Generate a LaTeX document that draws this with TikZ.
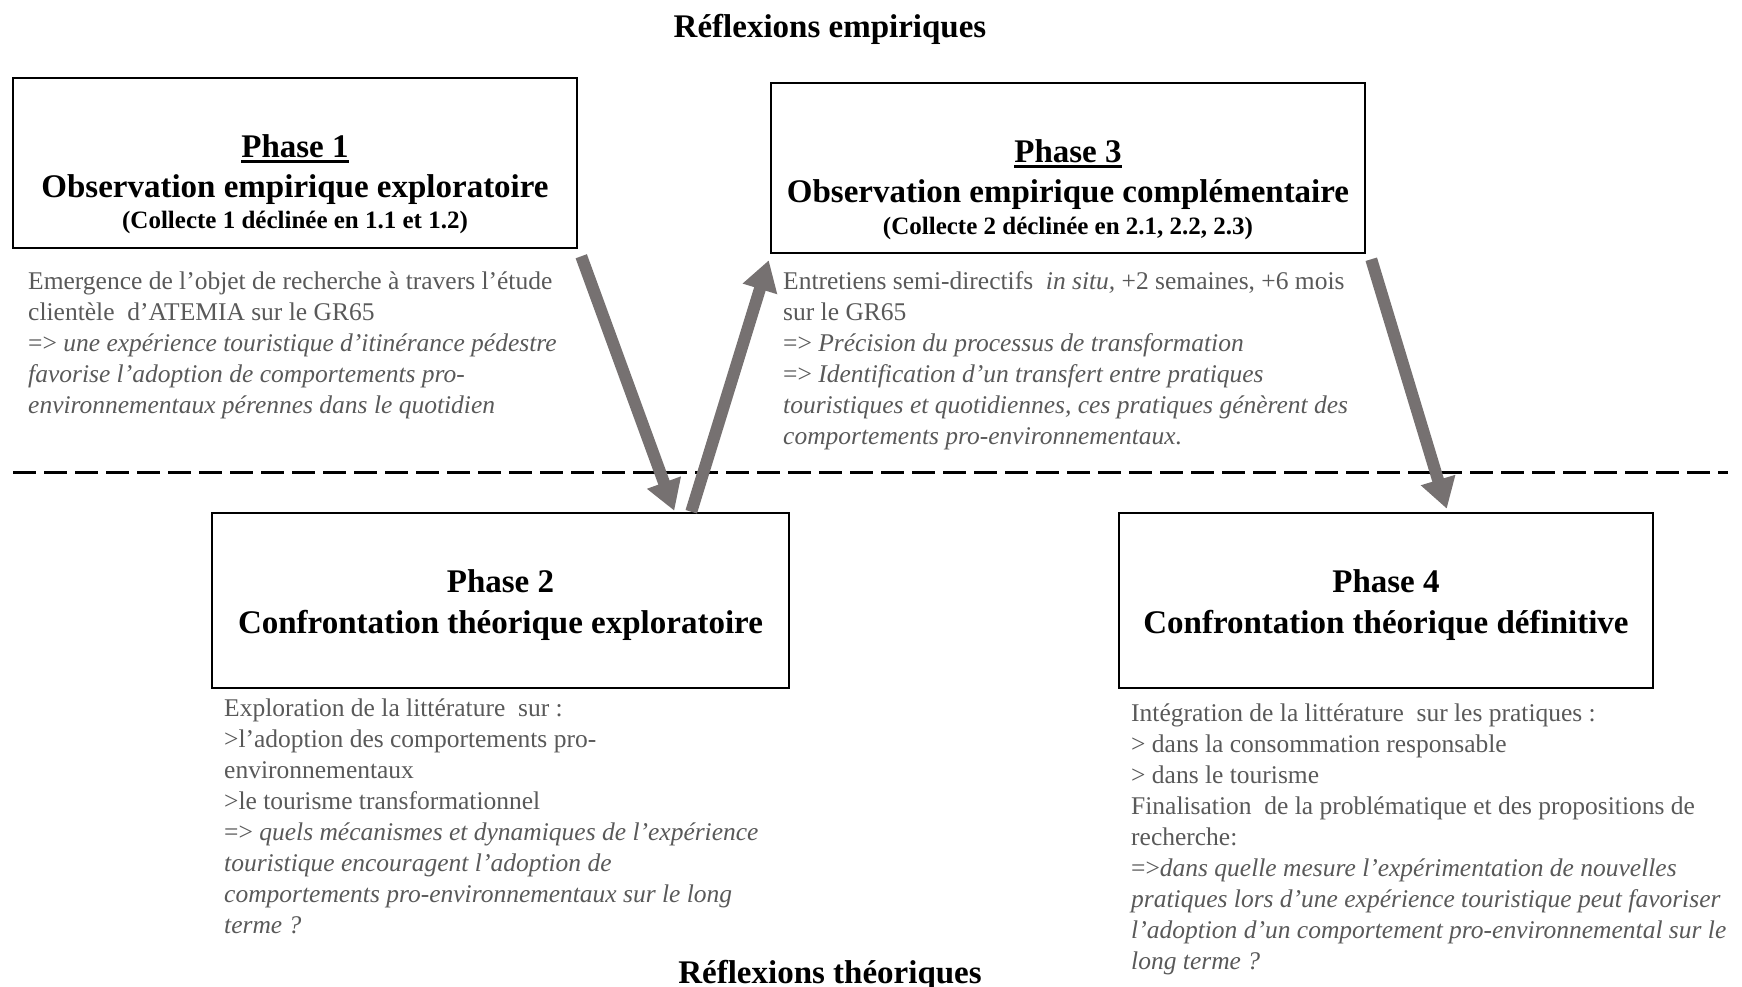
\documentclass[tikz,border=0pt]{standalone}
\usepackage{fontspec}
\setmainfont{Liberation Serif}
\usetikzlibrary{arrows.meta,calc}
\definecolor{txtgray}{HTML}{595959}
\definecolor{arrgray}{HTML}{767171}
\newcommand{\myul}[1]{\setbox0\hbox{#1}\rlap{\rule[-5pt]{\wd0}{2.5pt}}\box0}
\tikzset{
 phasebox/.style={draw=black, line width=2.5pt, inner sep=0pt},
 headtxt/.style={font=\fontsize{33}{40}\selectfont\bfseries, anchor=base, inner sep=0pt},
 subtxt/.style={font=\fontsize{25}{30}\selectfont\bfseries, anchor=base, inner sep=0pt},
 desctxt/.style={font=\fontsize{25.5}{31}\selectfont, text=txtgray, align=left, anchor=base west, inner sep=0pt},
 bigarrow/.style={draw=arrgray, line width=12pt, -{Triangle[length=30pt,width=34pt]}},
 dashline/.style={draw=black, line width=3pt, dash pattern=on 23pt off 8pt},
}
\begin{document}
\begin{tikzpicture}[x=1pt,y=-1pt]
\useasboundingbox (0,0) rectangle (1742,987);
% titles
\node[headtxt] (temp) at (830,38) {Réflexions empiriques};
\node[headtxt] (ttheo) at (830,983) {Réflexions théoriques};
% boxes
\node[phasebox, minimum width=564pt, minimum height=170pt] (p1) at (295,163) {};
\node[phasebox, minimum width=594pt, minimum height=170pt] (p3) at (1068,168) {};
\node[phasebox, minimum width=577pt, minimum height=175pt] (p2) at (500.5,600.5) {};
\node[phasebox, minimum width=534pt, minimum height=175pt] (p4) at (1386,600.5) {};
% box texts
\node[headtxt] (p1a) at (295,158) {\myul{Phase 1}};
\node[headtxt] (p1b) at (295,198) {Observation empirique exploratoire};
\node[subtxt] (p1c) at (295,229) {(Collecte 1 déclinée en 1.1 et 1.2)};
\node[headtxt] (p3a) at (1068,163) {\myul{Phase 3}};
\node[headtxt] (p3b) at (1068,203) {Observation empirique complémentaire};
\node[subtxt] (p3c) at (1068,234) {(Collecte 2 déclinée en 2.1, 2.2, 2.3)};
\node[headtxt] (p2a) at (500.5,592) {Phase 2};
\node[headtxt] (p2b) at (500.5,633) {Confrontation théorique exploratoire};
\node[headtxt] (p4a) at (1386,592) {Phase 4};
\node[headtxt] (p4b) at (1386,633) {Confrontation théorique définitive};
% descriptions (anchored at the baseline of the last line)
\node[desctxt] (d1) at (28,413) {Emergence de l’objet de recherche à travers l’étude\\
clientèle \ d’ATEMIA sur le GR65\\
=> \textit{une expérience touristique d’itinérance pédestre}\\
\textit{favorise l’adoption de comportements pro-}\\
\textit{environnementaux pérennes dans le quotidien}};
\node[desctxt] (d3) at (783,444) {Entretiens semi-directifs \ \textit{in situ,} +2 semaines, +6 mois\\
sur le GR65\\
=> \textit{Précision du processus de transformation}\\
=> \textit{Identification d’un transfert entre pratiques}\\
\textit{touristiques et quotidiennes, ces pratiques génèrent des}\\
\textit{comportements pro-environnementaux.}};
\node[desctxt] (d2) at (224,933) {Exploration de la littérature \ sur :\\
>l’adoption des comportements pro-\\
environnementaux\\
>le tourisme transformationnel\\
=> \textit{quels mécanismes et dynamiques de l’expérience}\\
\textit{touristique encouragent l’adoption de}\\
\textit{comportements pro-environnementaux sur le long}\\
\textit{terme ?}};
\node[desctxt] (d4) at (1131,969) {Intégration de la littérature \ sur les pratiques :\\
> dans la consommation responsable\\
> dans le tourisme\\
Finalisation \ de la problématique et des propositions de\\
recherche:\\
=>\textit{dans quelle mesure l’expérimentation de nouvelles}\\
\textit{pratiques lors d’une expérience touristique peut favoriser}\\
\textit{l’adoption d’un comportement pro-environnemental sur le}\\
\textit{long terme ?}};
% dashed separator
\coordinate (dl) at (13,472);
\coordinate (dr) at (1728,472);
\draw[dashline] (dl) -- (dr);
% arrows
\draw[bigarrow] ($(p1.south east)+(3,7)$) -- ($(p2.north east)+(-116,-1)$);
\draw[bigarrow] ($(p2.north east)+(-99,0)$) -- ($(p3.south west)+(-1,6)$);
\draw[bigarrow] ($(p3.south east)+(5,5)$) -- ($(p4.north west)+(329,-3)$);
\end{tikzpicture}
\end{document}
